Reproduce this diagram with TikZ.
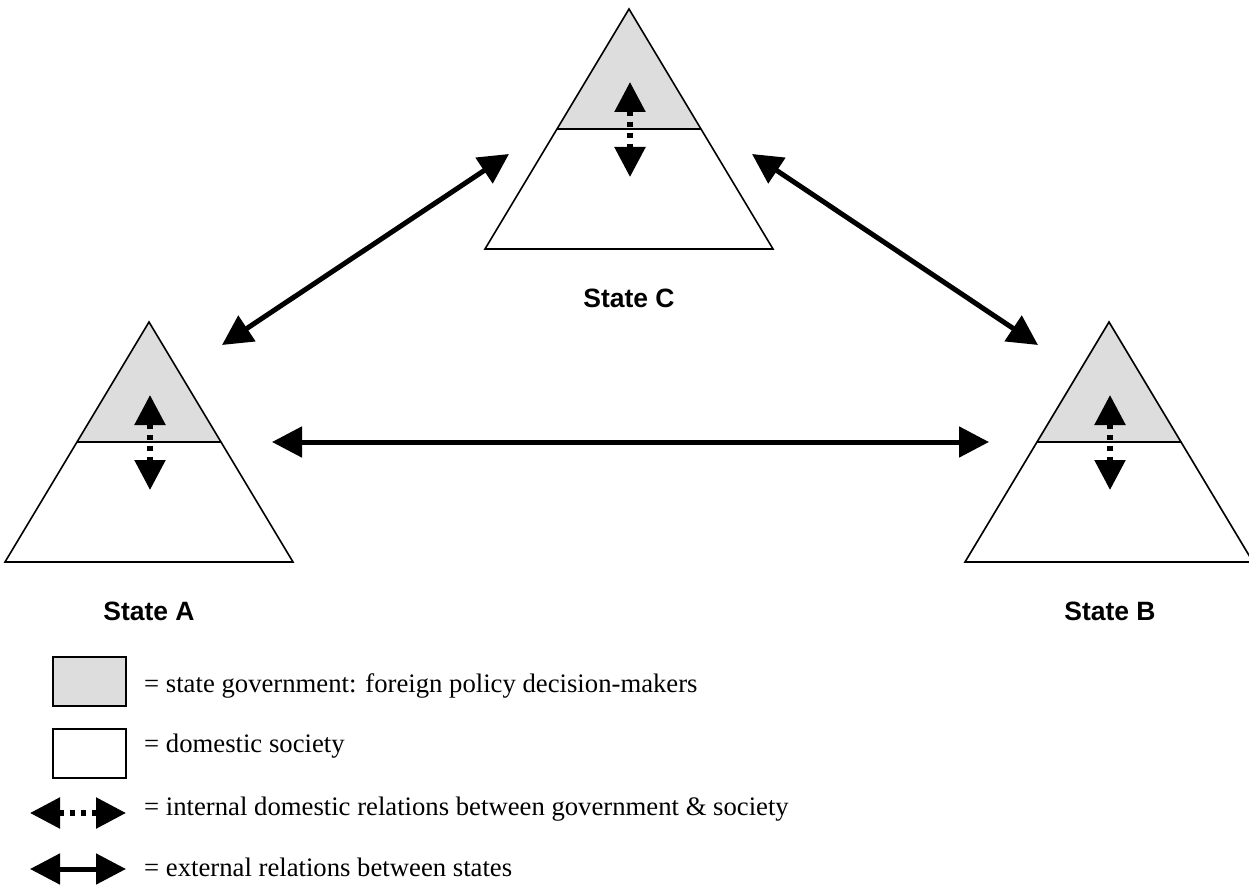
\documentclass[tikz,border=0pt]{standalone}
\usepackage{fontspec}
\setmainfont{Liberation Serif}
\setsansfont{Liberation Sans}
\usetikzlibrary{arrows.meta}
\definecolor{govgray}{RGB}{221,221,221}
\begin{document}
\begin{tikzpicture}[x=1pt,y=-1pt,
  tri/.style={draw=black,line width=1.6pt,line join=miter},
  tip/.style={Triangle[length=30pt,width=30pt]},
  ext/.style={line width=5pt,{Triangle[length=30pt,width=30pt]}-{Triangle[length=30pt,width=30pt]}},
  intr/.style={line width=5.5pt,dash pattern=on 5pt off 6pt,{Triangle[length=30pt,width=30pt]}-{Triangle[length=30pt,width=30pt]}},
  lbl/.style={font=\sffamily\bfseries\fontsize{26.5}{30}\selectfont,anchor=base,inner sep=0pt},
  leg/.style={font=\fontsize{26.7}{30}\selectfont,anchor=base west,inner sep=0pt},
  legbox/.style={draw=black,line width=2pt,minimum width=73pt,minimum height=49pt,inner sep=0pt}
]
\useasboundingbox (0,0) rectangle (1249,890);

% triangles
\foreach \n/\x/\y in {A/149/322, B/1109/322, C/629/9}{
  \coordinate (\n-top) at (\x,\y);
  \coordinate (\n-bl) at (\x-144,\y+240);
  \coordinate (\n-br) at (\x+144,\y+240);
  \coordinate (\n-ml) at (\x-72,\y+120);
  \coordinate (\n-mr) at (\x+72,\y+120);
  \coordinate (\n-up) at (\x+1,\y+73);
  \coordinate (\n-dn) at (\x+1,\y+168);
  \fill[govgray] (\n-top) -- (\n-ml) -- (\n-mr) -- cycle;
  \draw[tri] (\n-top) -- (\n-bl) -- (\n-br) -- cycle;
  \draw[tri] (\n-ml) -- (\n-mr);
  \draw[intr] (\n-up) -- (\n-dn);
}

% labels
\node[lbl] (labA) at (149,620) {State A};
\node[lbl] (labB) at (1110,620) {State B};
\node[lbl] (labC) at (629,308) {State C};

% external relations
\coordinate (AC1) at (222,345);
\coordinate (AC2) at (509,154);
\coordinate (CB1) at (752,154);
\coordinate (CB2) at (1038,345);
\coordinate (AB1) at (272,442);
\coordinate (AB2) at (989,442);
\draw[ext] (AC1) -- (AC2);
\draw[ext] (CB1) -- (CB2);
\draw[ext] (AB1) -- (AB2);

% legend
\node[legbox,fill=govgray] (govbox) at (89.5,681.5) {};
\node[legbox,fill=white] (socbox) at (89.5,753.5) {};
\coordinate (li1) at (30,813);
\coordinate (li2) at (126,813);
\coordinate (le1) at (30,869);
\coordinate (le2) at (126,869);
\draw[intr] (li1) -- (li2);
\draw[ext] (le1) -- (le2);
\node[leg] (govtxt) at (144,692) {= state government: foreign policy decision-makers};
\node[leg] (soctxt) at (144,752) {= domestic society};
\node[leg] (inttxt) at (144,815) {= internal domestic relations between government \& society};
\node[leg] (exttxt) at (144,876) {= external relations between states};
\end{tikzpicture}
\end{document}
